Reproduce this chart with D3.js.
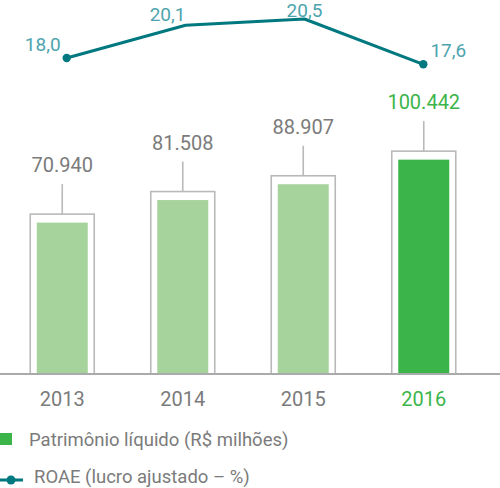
<!DOCTYPE html>
<html><head><meta charset="utf-8">
<script src="https://cdn.jsdelivr.net/npm/d3@7"></script>
<style>
html,body{margin:0;padding:0;background:#fff;}
svg{display:block;font-family:Roboto, "Open Sans", sans-serif;font-weight:400;}
</style></head>
<body>
<svg id="c" width="500" height="488"></svg>
<script>
const years = ["2013","2014","2015","2016"];
const equity = [70940, 81508, 88907, 100442];
const equityLabels = ["70.940","81.508","88.907","100.442"];
const roae = [18.0, 20.1, 20.5, 17.6];
const roaeLabels = ["18,0","20,1","20,5","17,6"];
const legendLabels = ["Patrimônio líquido (R$ milhões)", "ROAE (lucro ajustado – %)"];

const svg = d3.select("#c");
const base = 374;
const x = d3.scaleBand().domain(years).range([2, 484]).paddingInner(0.46).paddingOuter(0.23);
const xl = d3.scalePoint().domain(years).range([66.7, 423.3]);
const y = d3.scaleLinear().domain([0, 175250]).range([base, 0]);
const yr = d3.scaleLinear().domain([16, 22]).range([19 + 4.5*15.62, 19 - 1.5*15.62]);

const gray = "#7b7b7b", boxStroke = "#b9b9b9";
const light = "#a6d39b", dark = "#3bb54a";
const teal = "#00787f", tealText = "#4ea4ae";
const isLast = (i) => i === years.length - 1;

const cx = d => x(d) + x.bandwidth()/2;
const bw = 51, ow = 64, pad = 8.5;

const g = svg.append("g");
years.forEach((yr0, i) => {
  const c = cx(yr0);
  const top = y(equity[i]);
  g.append("rect").attr("x", c - ow/2).attr("y", top - pad).attr("width", ow).attr("height", base - (top - pad))
    .attr("fill", "#fff").attr("stroke", boxStroke).attr("stroke-width", 1.6);
  g.append("rect").attr("x", c - bw/2).attr("y", top).attr("width", bw).attr("height", base - top)
    .attr("fill", isLast(i) ? dark : light);
  g.append("line").attr("x1", c).attr("x2", c).attr("y1", top - pad).attr("y2", top - pad - 30)
    .attr("stroke", boxStroke).attr("stroke-width", 1.6);
  g.append("text").attr("x", c).attr("y", top - pad - 42).attr("text-anchor", "middle")
    .attr("font-size", 20).attr("fill", isLast(i) ? dark : gray).text(equityLabels[i]);
  g.append("text").attr("x", c).attr("y", 405.5).attr("text-anchor", "middle")
    .attr("font-size", 20).attr("fill", isLast(i) ? dark : gray).text(yr0);
});

svg.append("line").attr("x1", 0).attr("x2", 500).attr("y1", base).attr("y2", base)
  .attr("stroke", "#aaaaaa").attr("stroke-width", 2);

const line = d3.line().x((d, i) => xl(years[i])).y(d => yr(d));
svg.append("path").datum(roae).attr("d", line).attr("fill", "none")
  .attr("stroke", teal).attr("stroke-width", 3).attr("stroke-linejoin", "round");
[0, roae.length - 1].forEach(i => {
  svg.append("circle").attr("cx", xl(years[i])).attr("cy", yr(roae[i])).attr("r", 4.2).attr("fill", teal);
});
const lblOff = [[-24, -7], [-18, -4], [0, -2], [25, -7]];
roae.forEach((v, i) => {
  svg.append("text").attr("x", xl(years[i]) + lblOff[i][0]).attr("y", yr(v) + lblOff[i][1])
    .attr("text-anchor", "middle").attr("font-size", 19).attr("fill", tealText).text(roaeLabels[i]);
});

svg.append("rect").attr("x", 0).attr("y", 433).attr("width", 12).attr("height", 12).attr("fill", dark);
svg.append("text").attr("x", 29).attr("y", 446).attr("font-size", 18.5).attr("fill", gray).text(legendLabels[0]);
svg.append("line").attr("x1", 0).attr("x2", 23).attr("y1", 480).attr("y2", 480).attr("stroke", teal).attr("stroke-width", 3);
svg.append("circle").attr("cx", 11).attr("cy", 480).attr("r", 4.5).attr("fill", teal);
svg.append("text").attr("x", 34).attr("y", 483).attr("font-size", 18.5).attr("fill", gray).text(legendLabels[1]);
</script>
</body></html>
